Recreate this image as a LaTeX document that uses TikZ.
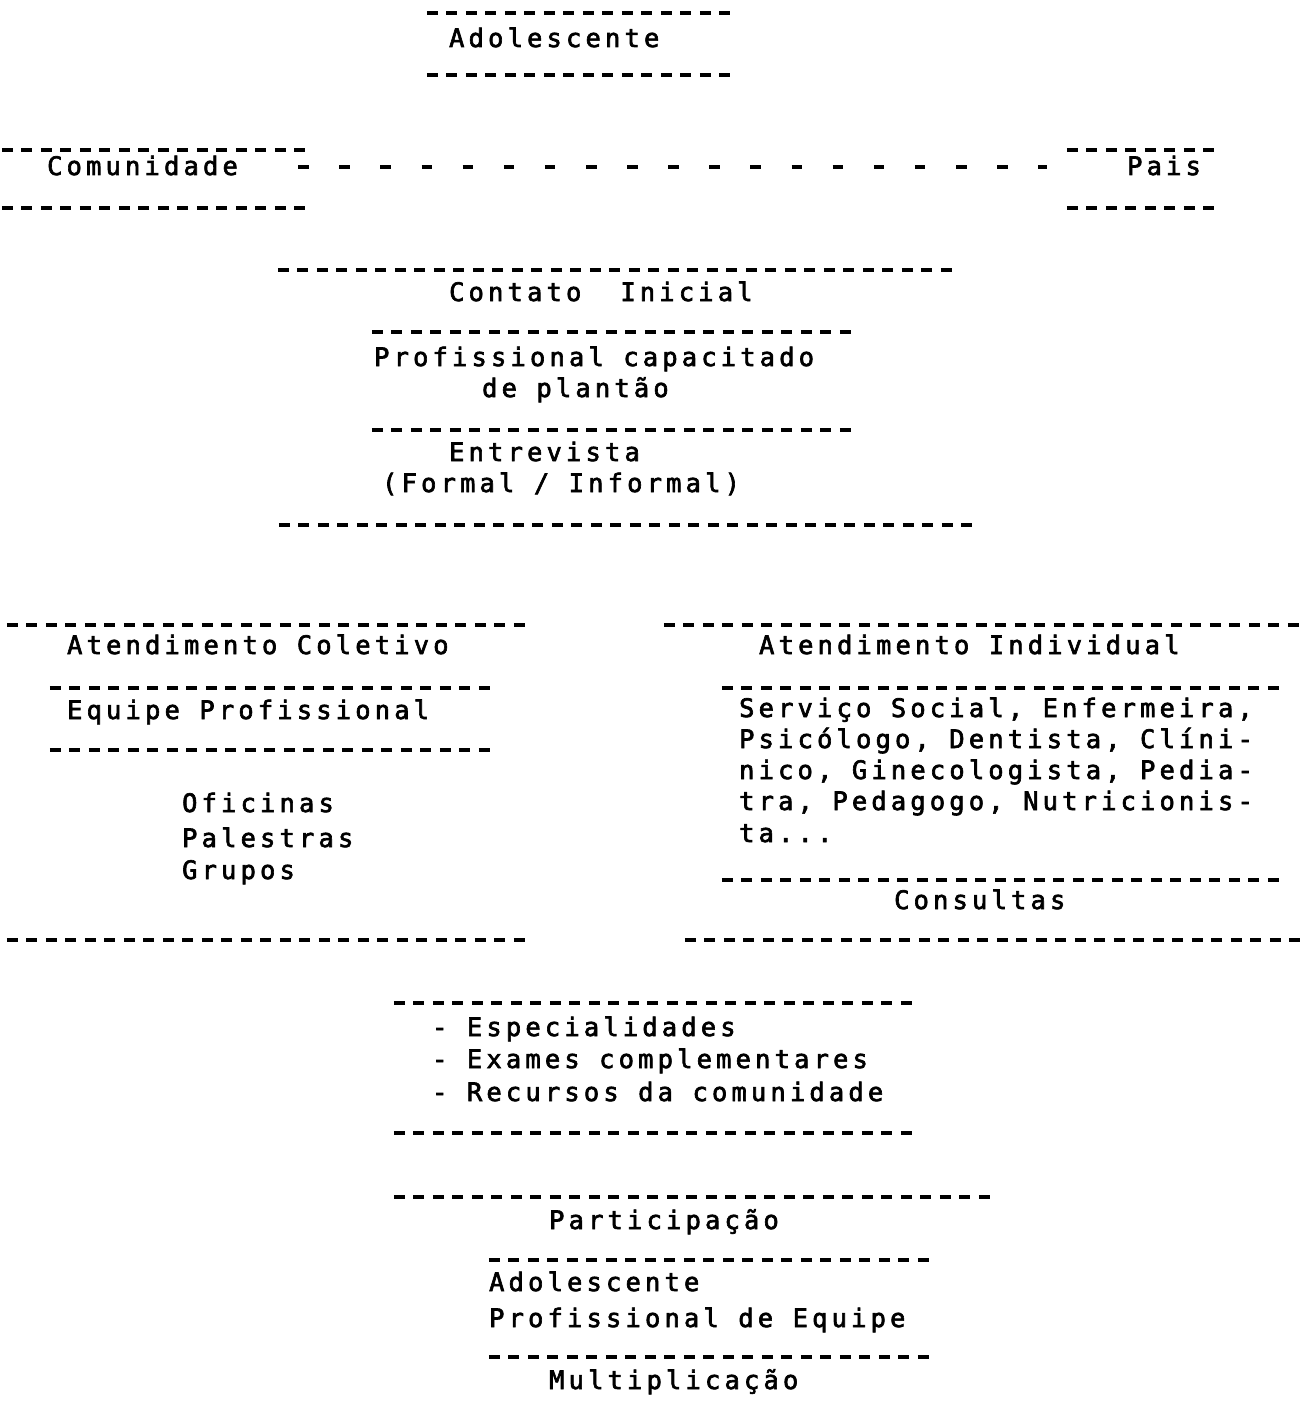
\documentclass[tikz,border=0pt]{standalone}
\usepackage{fontspec}
\newfontfamily\typeface[LetterSpace=16.3, FakeBold=2.5]{DejaVu Sans Mono}
\usetikzlibrary{calc}

\tikzset{
  txt/.style={font=\typeface\fontsize{14.5}{17}\selectfont, inner sep=0pt, anchor=base west},
  hyph/.style={line width=2pt, dash pattern=on 6.26pt off 4.84pt},
  wide hyph/.style={line width=1.8pt, dash pattern=on 6pt off 17.4pt}
}

\begin{document}
\begin{tikzpicture}[x=0.02cm, y=-0.02cm]
\fill[white] (0, 0) rectangle (1303, 1419);

\draw[hyph] (425, 13) -- (729, 13);
\node[txt] (adol) at (447, 47) {Adolescente};
\draw[hyph] (425, 75) -- (729, 75);

\draw[hyph] (0, 150) -- (304, 150);
\node[txt] (comu) at (45, 175) {Comunidade};
\draw[hyph] (0, 208) -- (304, 208);
\draw[hyph] (1065, 150) -- (1213, 150);
\node[txt] (pais) at (1125, 175) {Pais};
\draw[hyph] (1065, 208) -- (1213, 208);
\draw[wide hyph] ($(comu.east |- 0, 167) + (60, 0)$) -- ($(pais.west |- 0, 167) + (-80, 0)$);

\draw[hyph] (276, 270) -- (951, 270);
\node[txt] (cont) at (447, 301) {Contato~~Inicial};
\draw[hyph] (370, 332) -- (850, 332);
\node[txt] (prof) at (372, 366) {Profissional capacitado};
\node[txt] (plan) at (480, 397) {de plantão};
\draw[hyph] (370, 430) -- (850, 430);
\node[txt] (entr) at (447, 461) {Entrevista};
\node[txt] (form) at (380, 492) {(Formal / Informal)};
\draw[hyph] (277, 525) -- (971, 525);

\draw[hyph] (5, 625) -- (524, 625);
\node[txt] (colt) at (65, 654) {Atendimento Coletivo};
\draw[hyph] (48, 688) -- (489, 688);
\node[txt] (equi) at (65, 719) {Equipe Profissional};
\draw[hyph] (48, 750) -- (489, 750);
\node[txt] (ofic) at (180, 812) {Oficinas};
\node[txt] (pale) at (180, 847) {Palestras};
\node[txt] (grup) at (180, 879) {Grupos};
\draw[hyph] (5, 940) -- (524, 940);

\draw[hyph] (662, 625) -- (1298, 625);
\node[txt] (indv) at (757, 654) {Atendimento Individual};
\draw[hyph] (720, 688) -- (1278, 688);
\node[txt] (serv) at (737, 717) {Serviço Social, Enfermeira,};
\node[txt] (psic) at (737, 748) {Psicólogo, Dentista, Clíni-};
\node[txt] (nico) at (737, 779) {nico, Ginecologista, Pedia-};
\node[txt] (tra) at (737, 810) {tra, Pedagogo, Nutricionis-};
\node[txt] (ta) at (737, 842) {ta...};
\draw[hyph] (720, 880) -- (1278, 880);
\node[txt] (cons) at (892, 909) {Consultas};
\draw[hyph] (683, 940) -- (1299, 940);

\draw[hyph] (392, 1003) -- (911, 1003);
\node[txt] (espe) at (430, 1036) {- Especialidades};
\node[txt] (exam) at (430, 1068) {- Exames complementares};
\node[txt] (recu) at (430, 1101) {- Recursos da comunidade};
\draw[hyph] (392, 1133) -- (911, 1133);

\draw[hyph] (392, 1197) -- (989, 1197);
\node[txt] (part) at (547, 1229) {Participação};
\draw[hyph] (487, 1260) -- (928, 1260);
\node[txt] (adob) at (487, 1291) {Adolescente};
\node[txt] (pequ) at (487, 1327) {Profissional de Equipe};
\draw[hyph] (487, 1357) -- (928, 1357);
\node[txt] (mult) at (547, 1389) {Multiplicação};
\end{tikzpicture}
\end{document}
